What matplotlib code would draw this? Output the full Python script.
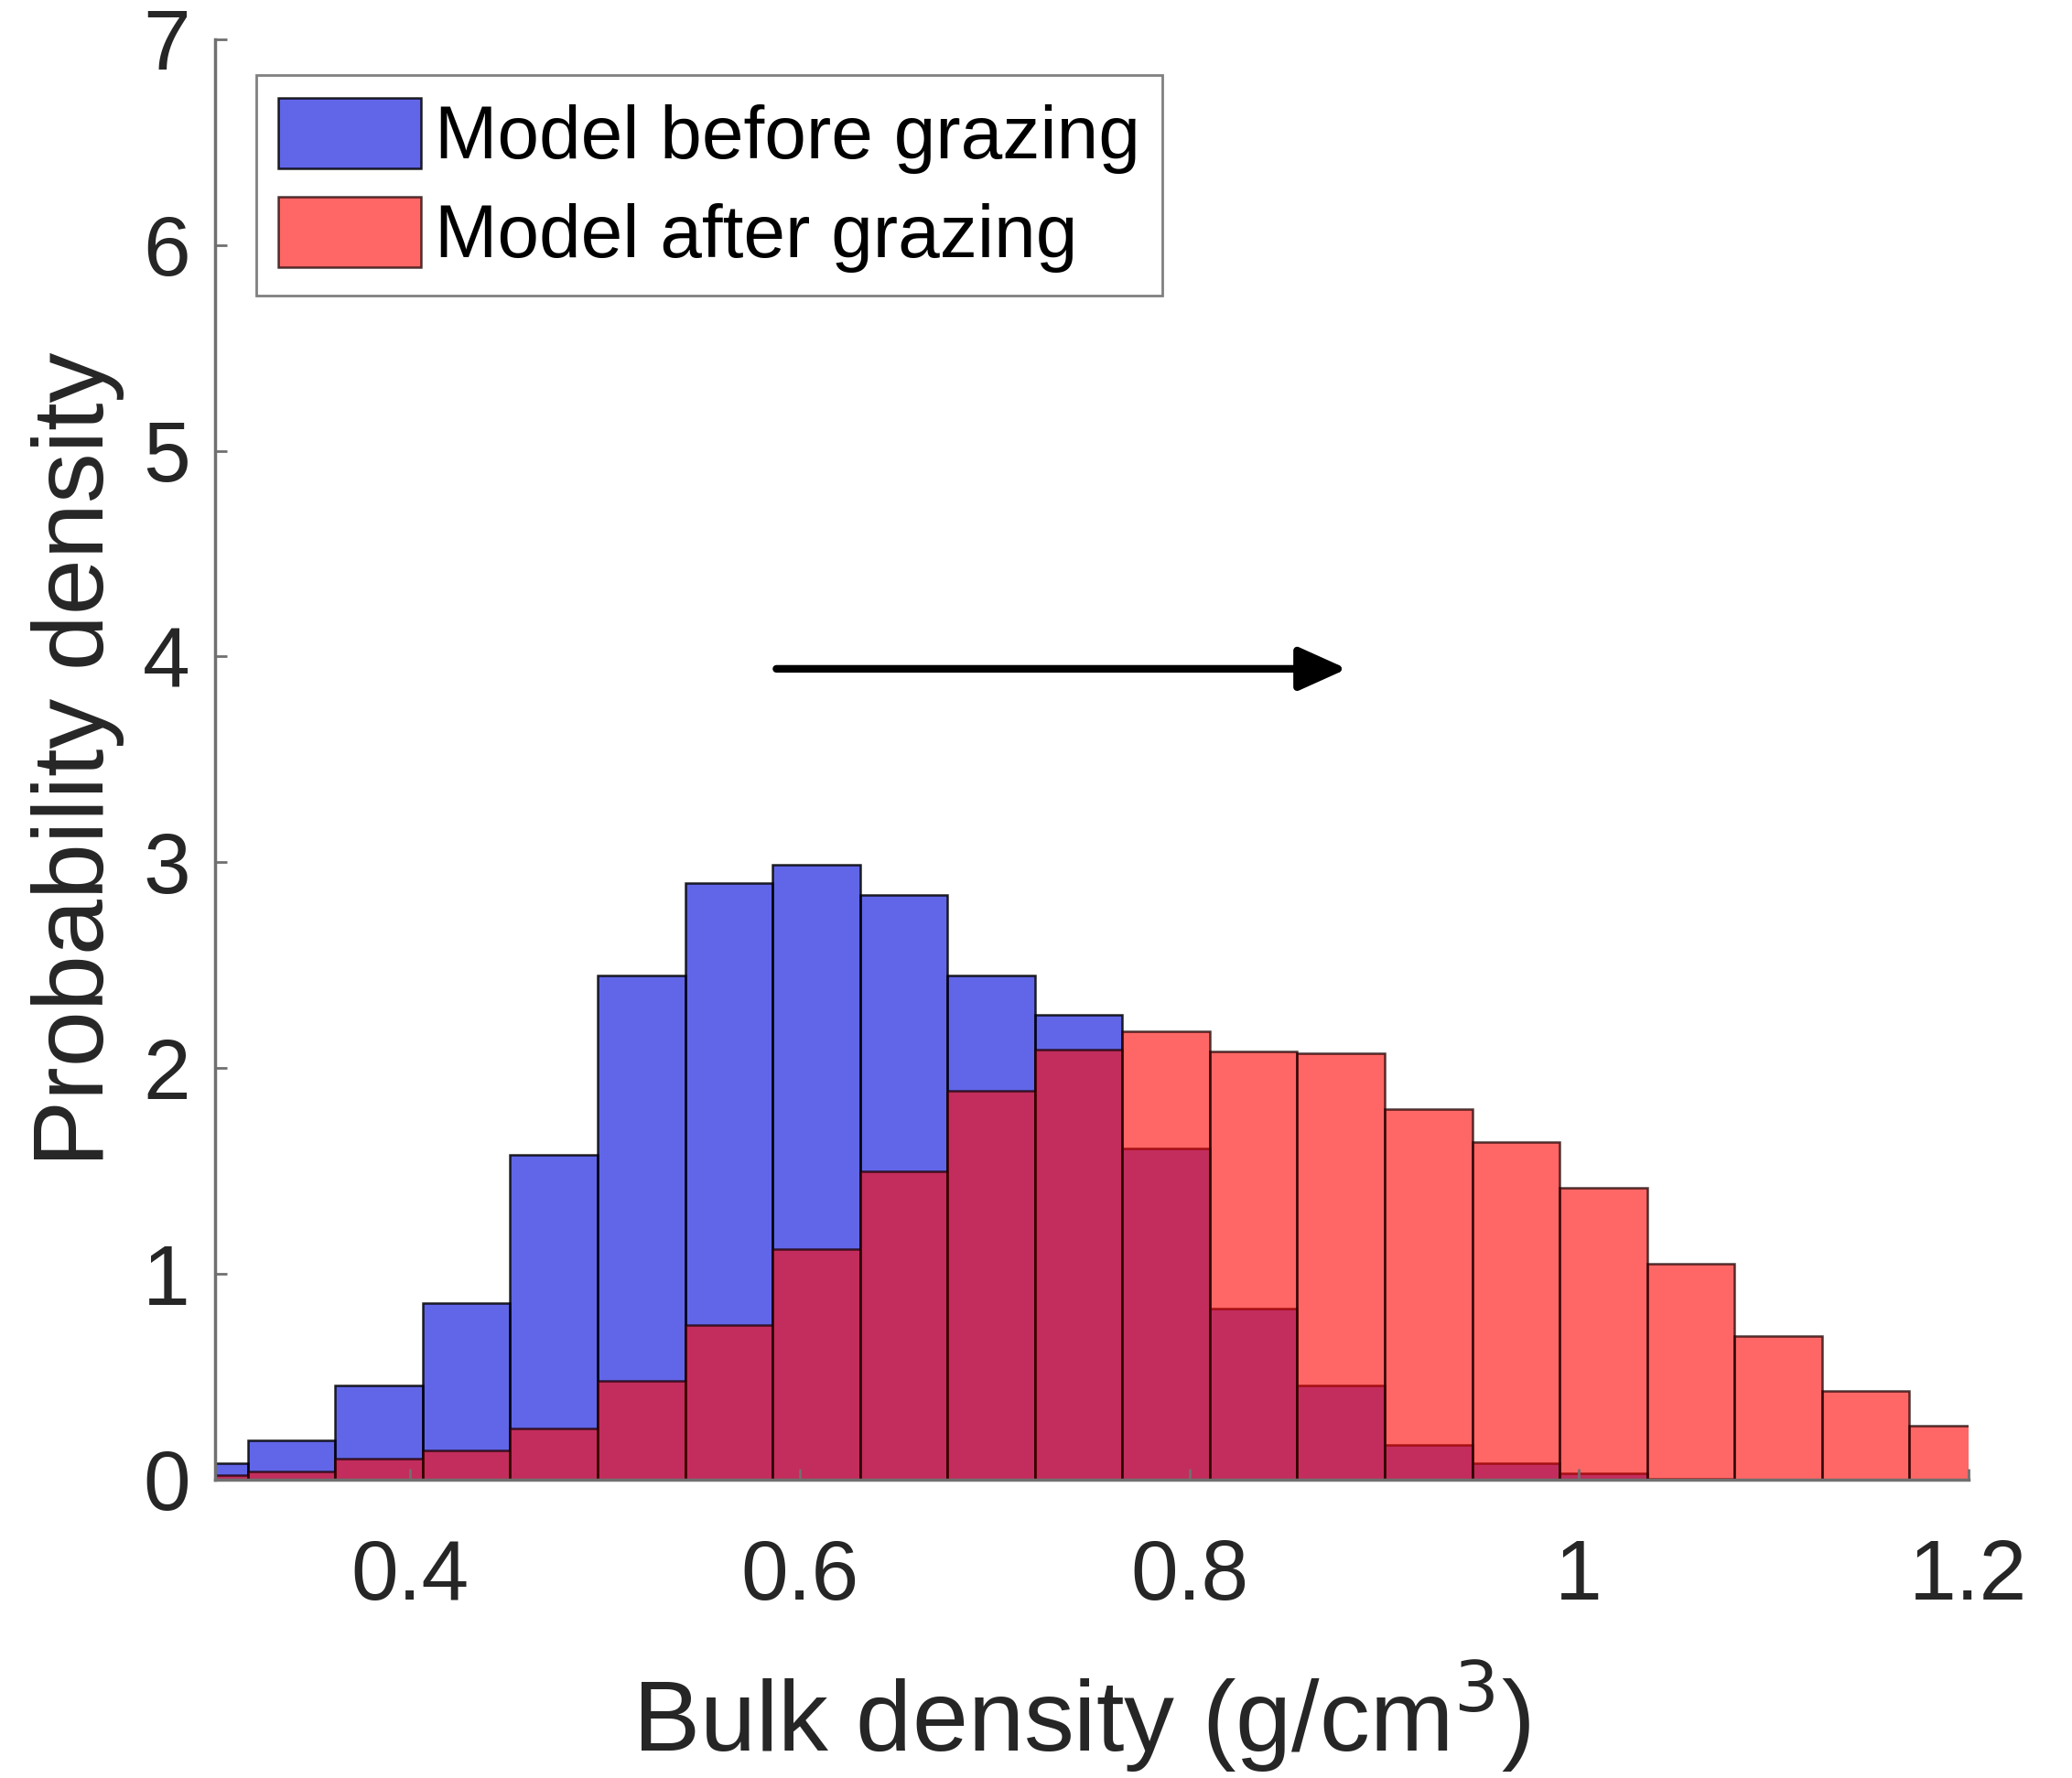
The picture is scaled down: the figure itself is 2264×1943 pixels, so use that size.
import numpy as np
import matplotlib.pyplot as plt

plt.rcParams['font.family'] = ['Liberation Sans', 'DejaVu Sans']

# bin edges (g/cm3)
bin_edges = [0.2717, 0.3166, 0.3615, 0.4064, 0.4513, 0.4962, 0.5411, 0.5860,
             0.6309, 0.6758, 0.7207, 0.7656, 0.8105, 0.8554, 0.9003, 0.9452,
             0.9901, 1.0350, 1.0799, 1.1248, 1.1697, 1.2146]
# probability density per bin
before_grazing = [0.08, 0.19, 0.46, 0.86, 1.58, 2.45, 2.90, 2.99, 2.84, 2.45, 2.26,
                  1.61, 0.83, 0.46, 0.17, 0.08, 0.03, 0.005, 0.0, 0.0, 0.0]
after_grazing = [0.02, 0.04, 0.10, 0.14, 0.25, 0.48, 0.75, 1.12, 1.50, 1.89, 2.09,
                 2.18, 2.08, 2.07, 1.80, 1.64, 1.42, 1.05, 0.70, 0.43, 0.26]
labels = ['Model before grazing', 'Model after grazing']
xticks = [0.4, 0.6, 0.8, 1.0, 1.2]
xtick_labels = ['0.4', '0.6', '0.8', '1', '1.2']

edges = np.array(bin_edges)
widths = np.diff(edges)

fig = plt.figure(figsize=(22.64, 19.43), dpi=100)
ax = fig.add_axes([0.104, 0.1678, 0.846, 0.8102])

ax.bar(edges[:-1], before_grazing, width=widths, align='edge',
       color=(0.0, 0.03, 0.86, 0.62), edgecolor=(0, 0, 0, 0.85), linewidth=1.8,
       label=labels[0])
ax.bar(edges[:-1], after_grazing, width=widths, align='edge',
       color=(1.0, 0.04, 0.03, 0.62), edgecolor=(0.1, 0, 0, 0.75), linewidth=1.8,
       label=labels[1])

# shift arrow
ax.annotate('', xy=(0.881, 3.94), xytext=(0.588, 3.94),
            arrowprops=dict(arrowstyle='-|>,head_length=0.8,head_width=0.36',
                            mutation_scale=40, lw=6, color='black',
                            shrinkA=0, shrinkB=0))

ax.set_xlim(0.3, 1.2)
ax.set_ylim(0, 7)
ax.set_xticks(xticks)
ax.set_xticklabels(xtick_labels)
ax.set_yticks(range(0, 8))

for s in ['top', 'right']:
    ax.spines[s].set_visible(False)
for s in ['left', 'bottom']:
    ax.spines[s].set_color('#707070')
    ax.spines[s].set_linewidth(2.5)

ax.tick_params(axis='both', direction='in', length=9, width=2, color='#707070',
               labelcolor='#262626', labelsize=67)
ax.tick_params(axis='x', pad=46)
ax.tick_params(axis='y', pad=20)

ax.set_xlabel('Bulk density (g/cm$^3$)', fontsize=79, color='#262626')
ax.xaxis.set_label_coords(0.494, -0.124)
ax.set_ylabel('Probability density', fontsize=79, color='#262626', labelpad=14)

leg = ax.legend(loc='upper left', bbox_to_anchor=(0.023, 0.975), borderaxespad=0,
                fontsize=59, handlelength=1.9, handleheight=1.07,
                handletextpad=0.18, labelspacing=0.3, borderpad=0.3,
                fancybox=False, framealpha=1, edgecolor='#808080')
leg.get_frame().set_linewidth(2)

plt.savefig('out.png', dpi=100)
